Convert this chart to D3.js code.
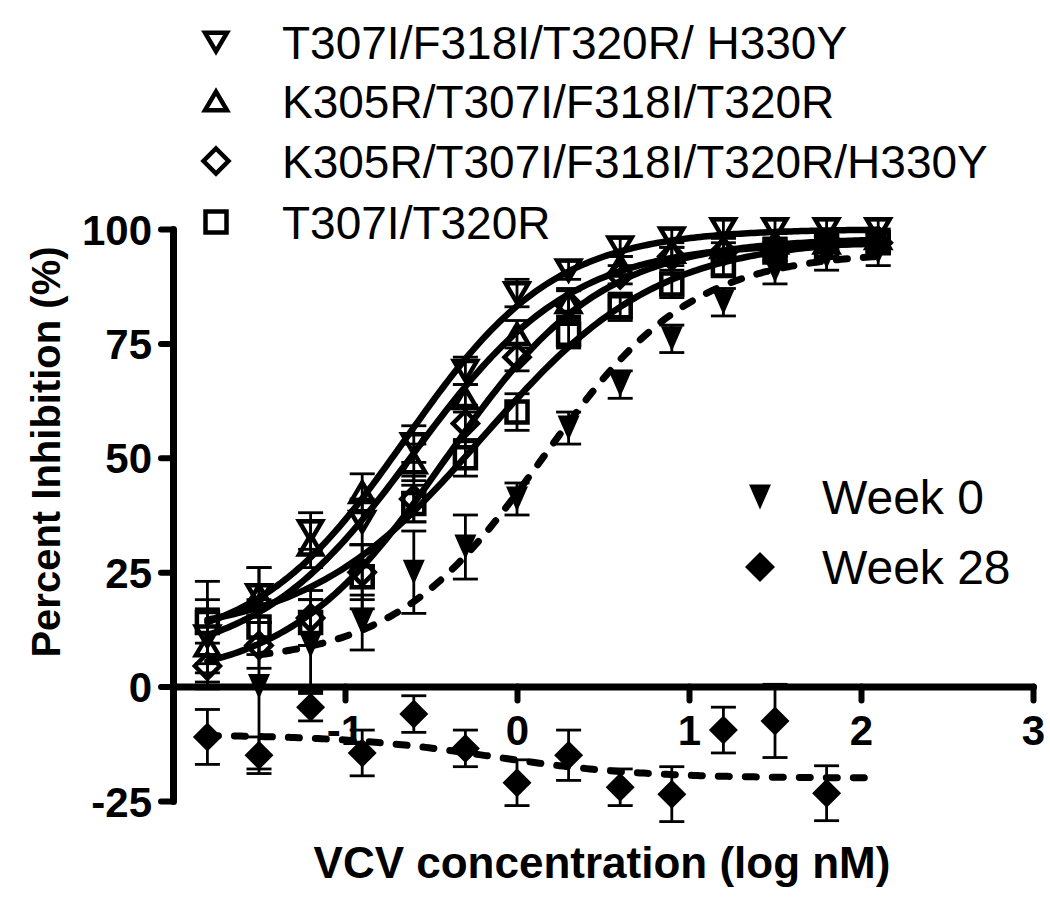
<!DOCTYPE html>
<html><head><meta charset="utf-8">
<script src="https://cdn.jsdelivr.net/npm/d3@7"></script>
<style>body{margin:0;background:#fff}svg{display:block}</style>
</head><body>
<script>
// ---- data ----
const doses = [-1.8,-1.5,-1.2,-0.9,-0.6,-0.3,0,0.3,0.6,0.9,1.2,1.5,1.8,2.1];
const seriesNames = ["T307I/F318I/T320R/ H330Y","K305R/T307I/F318I/T320R","K305R/T307I/F318I/T320R/H330Y","T307I/T320R"];
const valsA = [11,20,34,36,53,69,86,91,96,98,100,100,100,100];
const errA  = [8,6,4,5,4,3,3,2,2,2,2,2,2,2];
const valsB = [9,20,31,42.5,49,63,77,84,92,95,96,97,97,98];
const errB  = [8,6,5,4,4,3,3,3,2,2,2,2,2,2];
const valsC = [4.5,9,15,25,41,57.5,72,83.5,90,94,95,96,97,97];
const errC  = [5,5,6,6,5,4,3,3,2,2,2,2,2,2];
const valsD = [14,13,14,24,40,50,60,77,83,88,92,95,96,97];
const errD  = [9,6,5,7,4,4,4,3,3,3,2,2,2,2];
const week0Doses = [-1.5,-1.2,-0.9,-0.6,-0.3,0,0.3,0.6,0.9,1.2,1.5,1.8,2.1];
const week0Vals  = [0,9,14,25,30.5,41,56.5,66,76,84,91,94,95];
const week0Err   = [18,10,6,9,7,3.5,3.5,3,3,3,3,3,3];
const week28Doses = [-1.8,-1.5,-1.2,-0.9,-0.6,-0.3,0,0.3,0.6,0.9,1.2,1.5,1.8];
const week28Vals  = [-11,-15,-4.5,-14.5,-6,-13.5,-21,-15,-22,-23.5,-9.5,-7.5,-23.3];
const week28Err   = [6,4,3,5,4,4,5,5.5,4,6,5,8,6];
// fitted 4-parameter logistic curves: A, B, C, D, Week 0, Week 28
// lowDose = asymptote at low concentration, highDose = asymptote at high concentration
const fitLowDose  = [8,5,1,11,5,-10.5];
const fitHighDose = [100,97,98,98,95,-20];
const fitLogEC50  = [-0.65,-0.6,-0.42,-0.2,0.15,-0.15];
const fitHill     = [1.0,0.95,0.95,0.85,1.0,1.0];
const fitFrom     = [-1.8,-1.8,-1.8,-1.8,-1.5,-1.8];
const fitTo       = [2.1,2.1,2.1,2.1,2.1,2.1];
const xTicks = [-1,0,1,2,3];
const yTicks = [-25,0,25,50,75,100];

// ---- drawing ----
const W=1050,H=899;
const svg=d3.select("body").append("svg").attr("width",W).attr("height",H);
const x=d3.scaleLinear().domain([-2,3]).range([173,1033]);
const y=d3.scaleLinear().domain([-25,100]).range([801,229]);
const FONT="Arial, 'Liberation Sans', sans-serif";

// axes
const gy=svg.append("g").attr("transform",`translate(${x(-2)},0)`)
  .call(d3.axisLeft(y).tickValues(yTicks).tickSize(12).tickSizeOuter(0).tickPadding(9).tickFormat(d=>String(d)));
const gx=svg.append("g").attr("transform",`translate(0,${y(0)})`)
  .call(d3.axisBottom(x).tickValues(xTicks).tickSize(14).tickSizeOuter(0).tickPadding(14).tickFormat(d=>String(d)));
[gy,gx].forEach(g=>{
  g.select(".domain").attr("stroke","#000").attr("stroke-width",7).attr("stroke-linecap","round");
  g.selectAll(".tick line").attr("stroke","#000").attr("stroke-width",6).attr("stroke-linecap","round");
  g.selectAll(".tick text").attr("fill","#000").attr("font-family",FONT).attr("font-weight","bold").attr("font-size",42);
});
gy.selectAll(".tick text").attr("dy","0.36em");
gx.selectAll(".tick text").attr("dy","0.72em");

// axis titles
svg.append("text").attr("transform",`translate(60,452) rotate(-90)`).attr("text-anchor","middle")
  .attr("font-family",FONT).attr("font-weight","bold").attr("font-size",40).text("Percent Inhibition (%)");
svg.append("text").attr("x",602).attr("y",878).attr("text-anchor","middle")
  .attr("font-family",FONT).attr("font-weight","bold").attr("font-size",44).text("VCV concentration (log nM)");

// curves
function curvePts(i){const pts=[];const n=200;for(let k=0;k<=n;k++){const xv=fitFrom[i]+(fitTo[i]-fitFrom[i])*k/n;
  const v=fitLowDose[i]+(fitHighDose[i]-fitLowDose[i])/(1+Math.pow(10,(fitLogEC50[i]-xv)*fitHill[i]));pts.push([xv,v]);}return pts;}
const line=d3.line().x(d=>x(d[0])).y(d=>y(d[1]));
const curves=svg.append("g").attr("fill","none").attr("stroke","#000");
[0,1,2,3].forEach(i=>curves.append("path").attr("d",line(curvePts(i))).attr("stroke-width",6.5).attr("stroke-linecap","round"));
[4,5].forEach(i=>curves.append("path").attr("d",line(curvePts(i))).attr("stroke-width",7).attr("stroke-linecap","round").attr("stroke-dasharray","11,16"));

// marker shapes
const shapes={
  down:(s)=>{const w=s*1.0,h=s*0.85;return `M${-w/2},${-h/2}L${w/2},${-h/2}L0,${h/2}Z`;},
  up:(s)=>{const w=s*1.0,h=s*0.85;return `M${-w/2},${h/2}L${w/2},${h/2}L0,${-h/2}Z`;},
  diamond:(s)=>`M0,${-s/2}L${s/2},0L0,${s/2}L${-s/2},0Z`,
  square:(s)=>`M${-s/2},${-s/2}H${s/2}V${s/2}H${-s/2}Z`,
  fdown:(s)=>{const w=22,h=25;return `M${-w/2},${-h/2}L${w/2},${-h/2}L0,${h/2}Z`;}
};
function drawSeries(xsArr,vals,errs,shape,size,filled){
  const g=svg.append("g");
  const eb=g.append("g").attr("stroke","#000").attr("stroke-width",2.8);
  xsArr.forEach((xv,k)=>{const cx=x(xv),lo=y(vals[k]-errs[k]),hi=y(vals[k]+errs[k]);
    eb.append("line").attr("x1",cx).attr("x2",cx).attr("y1",lo).attr("y2",hi);
    eb.append("line").attr("x1",cx-12.5).attr("x2",cx+12.5).attr("y1",lo).attr("y2",lo);
    eb.append("line").attr("x1",cx-12.5).attr("x2",cx+12.5).attr("y1",hi).attr("y2",hi);});
  g.selectAll("path.m").data(xsArr).enter().append("path").attr("class","m")
    .attr("transform",(d,k)=>`translate(${x(d)},${y(vals[k])})`).attr("d",shapes[shape](size))
    .attr("fill",filled?"#000":"none").attr("stroke","#000").attr("stroke-width",filled?0:4.5).attr("stroke-linejoin","miter");
}
drawSeries(doses,valsD,errD,"square",21,false);
drawSeries(doses,valsC,errC,"diamond",25,false);
drawSeries(doses,valsB,errB,"up",23,false);
drawSeries(doses,valsA,errA,"down",23,false);
drawSeries(week0Doses,week0Vals,week0Err,"fdown",24,true);
drawSeries(week28Doses,week28Vals,week28Err,"diamond",29,true);

// legends
const legShapes=["down","up","diamond","square"];
const legY=[42,101,161,222];
const lg=svg.append("g");
seriesNames.forEach((nm,i)=>{
  lg.append("path").attr("transform",`translate(216,${legY[i]})`).attr("d",shapes[legShapes[i]](i==3?21:(i==2?25:22)))
    .attr("fill","none").attr("stroke","#000").attr("stroke-width",4.5);
  lg.append("text").attr("x",282).attr("y",legY[i]).attr("dy","0.36em").attr("font-family",FONT)
    .attr("font-size",46).text(nm);
});
const wkNames=["Week 0","Week 28"], wkShapes=["fdown","diamond"], wkY=[497,567];
wkNames.forEach((nm,i)=>{
  lg.append("path").attr("transform",`translate(760,${wkY[i]})`).attr("d",shapes[wkShapes[i]](30)).attr("fill","#000");
  lg.append("text").attr("x",822).attr("y",wkY[i]).attr("dy","0.36em").attr("font-family",FONT)
    .attr("font-size",48).text(nm);
});
</script>
</body></html>
